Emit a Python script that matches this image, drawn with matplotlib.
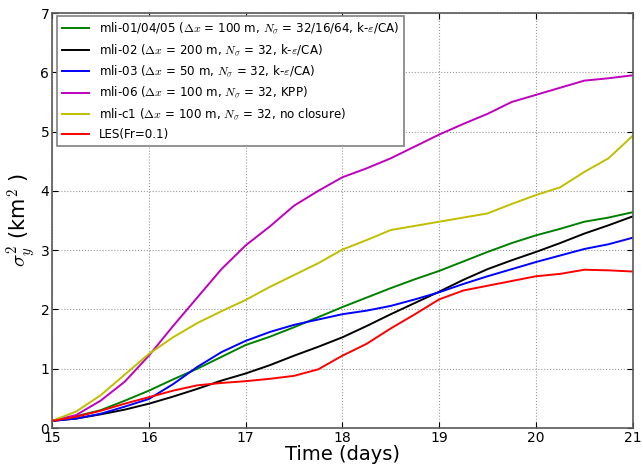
import numpy as np
import matplotlib
matplotlib.use("Agg")
import matplotlib.pyplot as plt

plt.rcParams['mathtext.fontset'] = 'cm'
plt.rcParams['mathtext.rm'] = 'DejaVu Sans'

days = np.arange(15, 21.01, 0.25)

mli_010405 = [0.12, 0.20, 0.30, 0.46, 0.63, 0.82, 1.00, 1.20, 1.40, 1.54, 1.70, 1.87, 2.04,
              2.20, 2.36, 2.51, 2.65, 2.81, 2.97, 3.12, 3.25, 3.36, 3.48, 3.55, 3.64]
mli_02 = [0.12, 0.16, 0.23, 0.31, 0.41, 0.53, 0.66, 0.80, 0.92, 1.06, 1.22, 1.37, 1.53,
          1.72, 1.92, 2.11, 2.30, 2.50, 2.68, 2.83, 2.97, 3.12, 3.28, 3.42, 3.57]
mli_03 = [0.12, 0.16, 0.24, 0.36, 0.49, 0.74, 1.03, 1.28, 1.47, 1.62, 1.74, 1.83, 1.92,
          1.98, 2.06, 2.17, 2.29, 2.43, 2.56, 2.68, 2.80, 2.91, 3.02, 3.10, 3.21]
mli_06 = [0.12, 0.22, 0.46, 0.78, 1.22, 1.72, 2.20, 2.68, 3.08, 3.40, 3.75, 4.00, 4.23,
          4.38, 4.55, 4.75, 4.95, 5.13, 5.30, 5.50, 5.62, 5.74, 5.86, 5.90, 5.95]
mli_c1 = [0.12, 0.28, 0.55, 0.90, 1.25, 1.53, 1.77, 1.97, 2.16, 2.38, 2.58, 2.78, 3.01,
          3.17, 3.34, 3.41, 3.48, 3.55, 3.62, 3.78, 3.93, 4.06, 4.32, 4.55, 4.93]
les = [0.12, 0.19, 0.29, 0.41, 0.52, 0.63, 0.72, 0.76, 0.79, 0.83, 0.88, 0.99, 1.22,
       1.42, 1.68, 1.92, 2.17, 2.32, 2.40, 2.48, 2.56, 2.60, 2.67, 2.66, 2.64]

labels = [r'mli-01/04/05 ($\Delta x$ = 100 m, $N_\sigma$ = 32/16/64, k-$\varepsilon$/CA)',
          r'mli-02 ($\Delta x$ = 200 m, $N_\sigma$ = 32, k-$\varepsilon$/CA)',
          r'mli-03 ($\Delta x$ = 50 m, $N_\sigma$ = 32, k-$\varepsilon$/CA)',
          r'mli-06 ($\Delta x$ = 100 m, $N_\sigma$ = 32, KPP)',
          r'mli-c1 ($\Delta x$ = 100 m, $N_\sigma$ = 32, no closure)',
          'LES(Fr=0.1)']
series = [mli_010405, mli_02, mli_03, mli_06, mli_c1, les]
colours = [(0, 0.5, 0), 'black', 'blue', (0.75, 0, 0.75), (0.75, 0.75, 0), 'red']

fig = plt.figure(figsize=(6.43, 4.66), dpi=100)
ax = fig.add_axes([0.081, 0.0815, 0.903, 0.8905])

for s, c, lab in zip(series, colours, labels):
    ax.plot(days, s, color=c, linewidth=1.4, label=lab)

ax.set_xlim(15, 21)
ax.set_ylim(0, 7)
ax.set_xticks(np.arange(15, 22, 1))
ax.set_yticks(np.arange(0, 8, 1))
ax.tick_params(direction='in', top=True, right=True, labelsize=10, length=4, pad=2)
ax.grid(True, linestyle=':', color='0.6', linewidth=0.8)
for sp in ax.spines.values():
    sp.set_color('0.35')
    sp.set_linewidth(1.2)

ax.set_xlabel('Time (days)', fontsize=14, labelpad=0)
ax.set_ylabel(r'$\sigma_y^2$ (km$^2$ )', fontsize=15, labelpad=2)

leg = ax.legend(loc='upper left', bbox_to_anchor=(0.008, 0.993), fontsize=8.6,
                fancybox=False, framealpha=1, edgecolor='0.5', borderaxespad=0,
                handlelength=2.3, labelspacing=0.52)
leg.get_frame().set_linewidth(1.2)

fig.savefig('out.png', dpi=100)
